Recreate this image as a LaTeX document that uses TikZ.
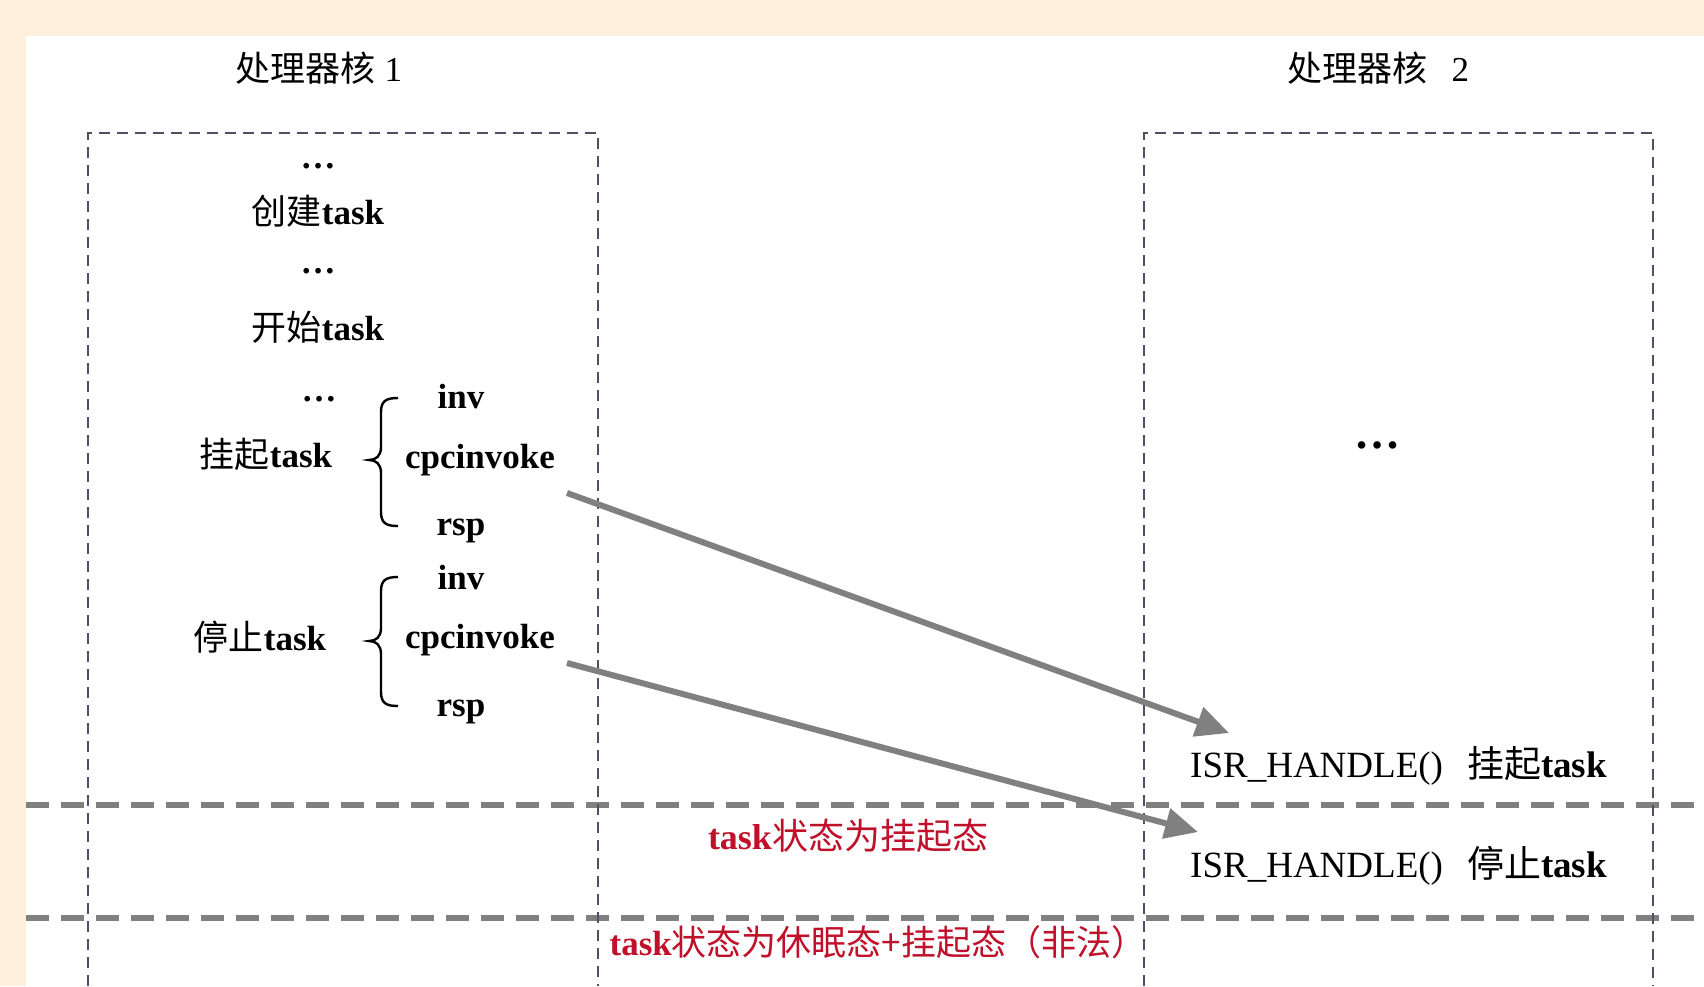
\documentclass[tikz,border=0pt]{standalone}
\usepackage{fontspec}
\setmainfont{Liberation Serif}
\newfontfamily\cjk{Noto Sans CJK SC}
\newcommand\zhtxt[1]{{\cjk\mdseries #1}}
\usetikzlibrary{arrows.meta}
\definecolor{cream}{HTML}{FDEFDC}
\definecolor{boxline}{HTML}{574C66}
\definecolor{arrowgray}{HTML}{808080}
\definecolor{redtext}{HTML}{C0102A}
\begin{document}
\begin{tikzpicture}[x=1pt,y=-1pt,
  txt/.style={inner sep=0pt, anchor=base, font=\fontsize{35}{40}\selectfont\bfseries},
  title/.style={inner sep=0pt, anchor=base, font=\fontsize{35}{40}\selectfont},
  isr/.style={inner sep=0pt, anchor=base west, font=\fontsize{37}{40}\selectfont},
  redlbl/.style={inner sep=0pt, anchor=base, text=redtext, font=\fontsize{36}{40}\selectfont\bfseries},
  corebox/.style={draw=boxline, line width=2pt, dash pattern=on 11pt off 7pt},
  sepline/.style={draw=arrowgray, line width=6pt, dash pattern=on 23pt off 12pt},
  bracepath/.style={draw=black, line width=2.4pt},
  callarrow/.style={draw=arrowgray, line width=6pt, -{Triangle[length=33pt,width=30pt]}}
]
\useasboundingbox (0,0) rectangle (1704,986);
\fill[cream] (0,0) rectangle (1704,986);
\fill[white] (26,36) rectangle (1704,986);

% separator lines
\draw[sepline] (26,805) -- (1704,805);
\draw[sepline] (26,918) -- (1704,918);

% core boxes
\draw[corebox] (88,986) -- (88,133) -- (598,133) -- (598,986);
\draw[corebox] (1144,986) -- (1144,133) -- (1653,133) -- (1653,986);

% titles
\node[title] (t1) at (319,81) {\zhtxt{处理器核} 1};
\node[title] (t2) at (1378,81) {\zhtxt{处理器核}\hspace{0.7em}2};

% left column
\node[txt] (d1) at (318,168) {…};
\node[txt] (create) at (318,224) {\zhtxt{创建}task};
\node[txt] (d2) at (318,273) {…};
\node[txt] (start) at (318,340) {\zhtxt{开始}task};
\node[txt] (d3) at (319,401) {…};

\node[txt] (suspend) at (266,467) {\zhtxt{挂起}task};
\node[txt] (inv1) at (461,408) {inv};
\node[txt] (cpc1) at (480,468) {cpcinvoke};
\node[txt] (rsp1) at (461,535) {rsp};

\node[txt] (stop) at (260,650) {\zhtxt{停止}task};
\node[txt] (inv2) at (461,589) {inv};
\node[txt] (cpc2) at (480,648) {cpcinvoke};
\node[txt] (rsp2) at (461,716) {rsp};

% braces
\draw[bracepath] (398,398) .. controls (386,398) and (381,401) .. (381,412)
  -- (381,447) .. controls (381,456) and (376,460) .. (369,460)
  .. controls (376,460) and (381,464) .. (381,473)
  -- (381,512) .. controls (381,523) and (386,526) .. (398,526);
\draw[bracepath] (398,577) .. controls (386,577) and (381,580) .. (381,591)
  -- (381,628) .. controls (381,637) and (376,641) .. (369,641)
  .. controls (376,641) and (381,645) .. (381,654)
  -- (381,692) .. controls (381,703) and (386,706) .. (398,706);

% right column
\node[txt, font=\fontsize{46}{48}\selectfont\bfseries] (d4) at (1377,448) {…};
\node[isr] (isr1) at (1190,777) {ISR\_HANDLE()\hspace{24pt}\zhtxt{挂起}\textbf{task}};
\node[isr] (isr2) at (1190,877) {ISR\_HANDLE()\hspace{24pt}\zhtxt{停止}\textbf{task}};

% state labels
\node[redlbl] (st1) at (848,849) {task\zhtxt{状态为挂起态}};
\node[redlbl, font=\fontsize{35}{40}\selectfont\bfseries] (st2) at (878,955) {task\zhtxt{状态为休眠态+挂起态（非法）}};

% arrows
\coordinate (a1s) at (567,493);
\coordinate (a1e) at (1229,733);
\coordinate (a2s) at (567,663);
\coordinate (a2e) at (1198,832);
\draw[callarrow] (a1s) -- (a1e);
\draw[callarrow] (a2s) -- (a2e);
\end{tikzpicture}
\end{document}
